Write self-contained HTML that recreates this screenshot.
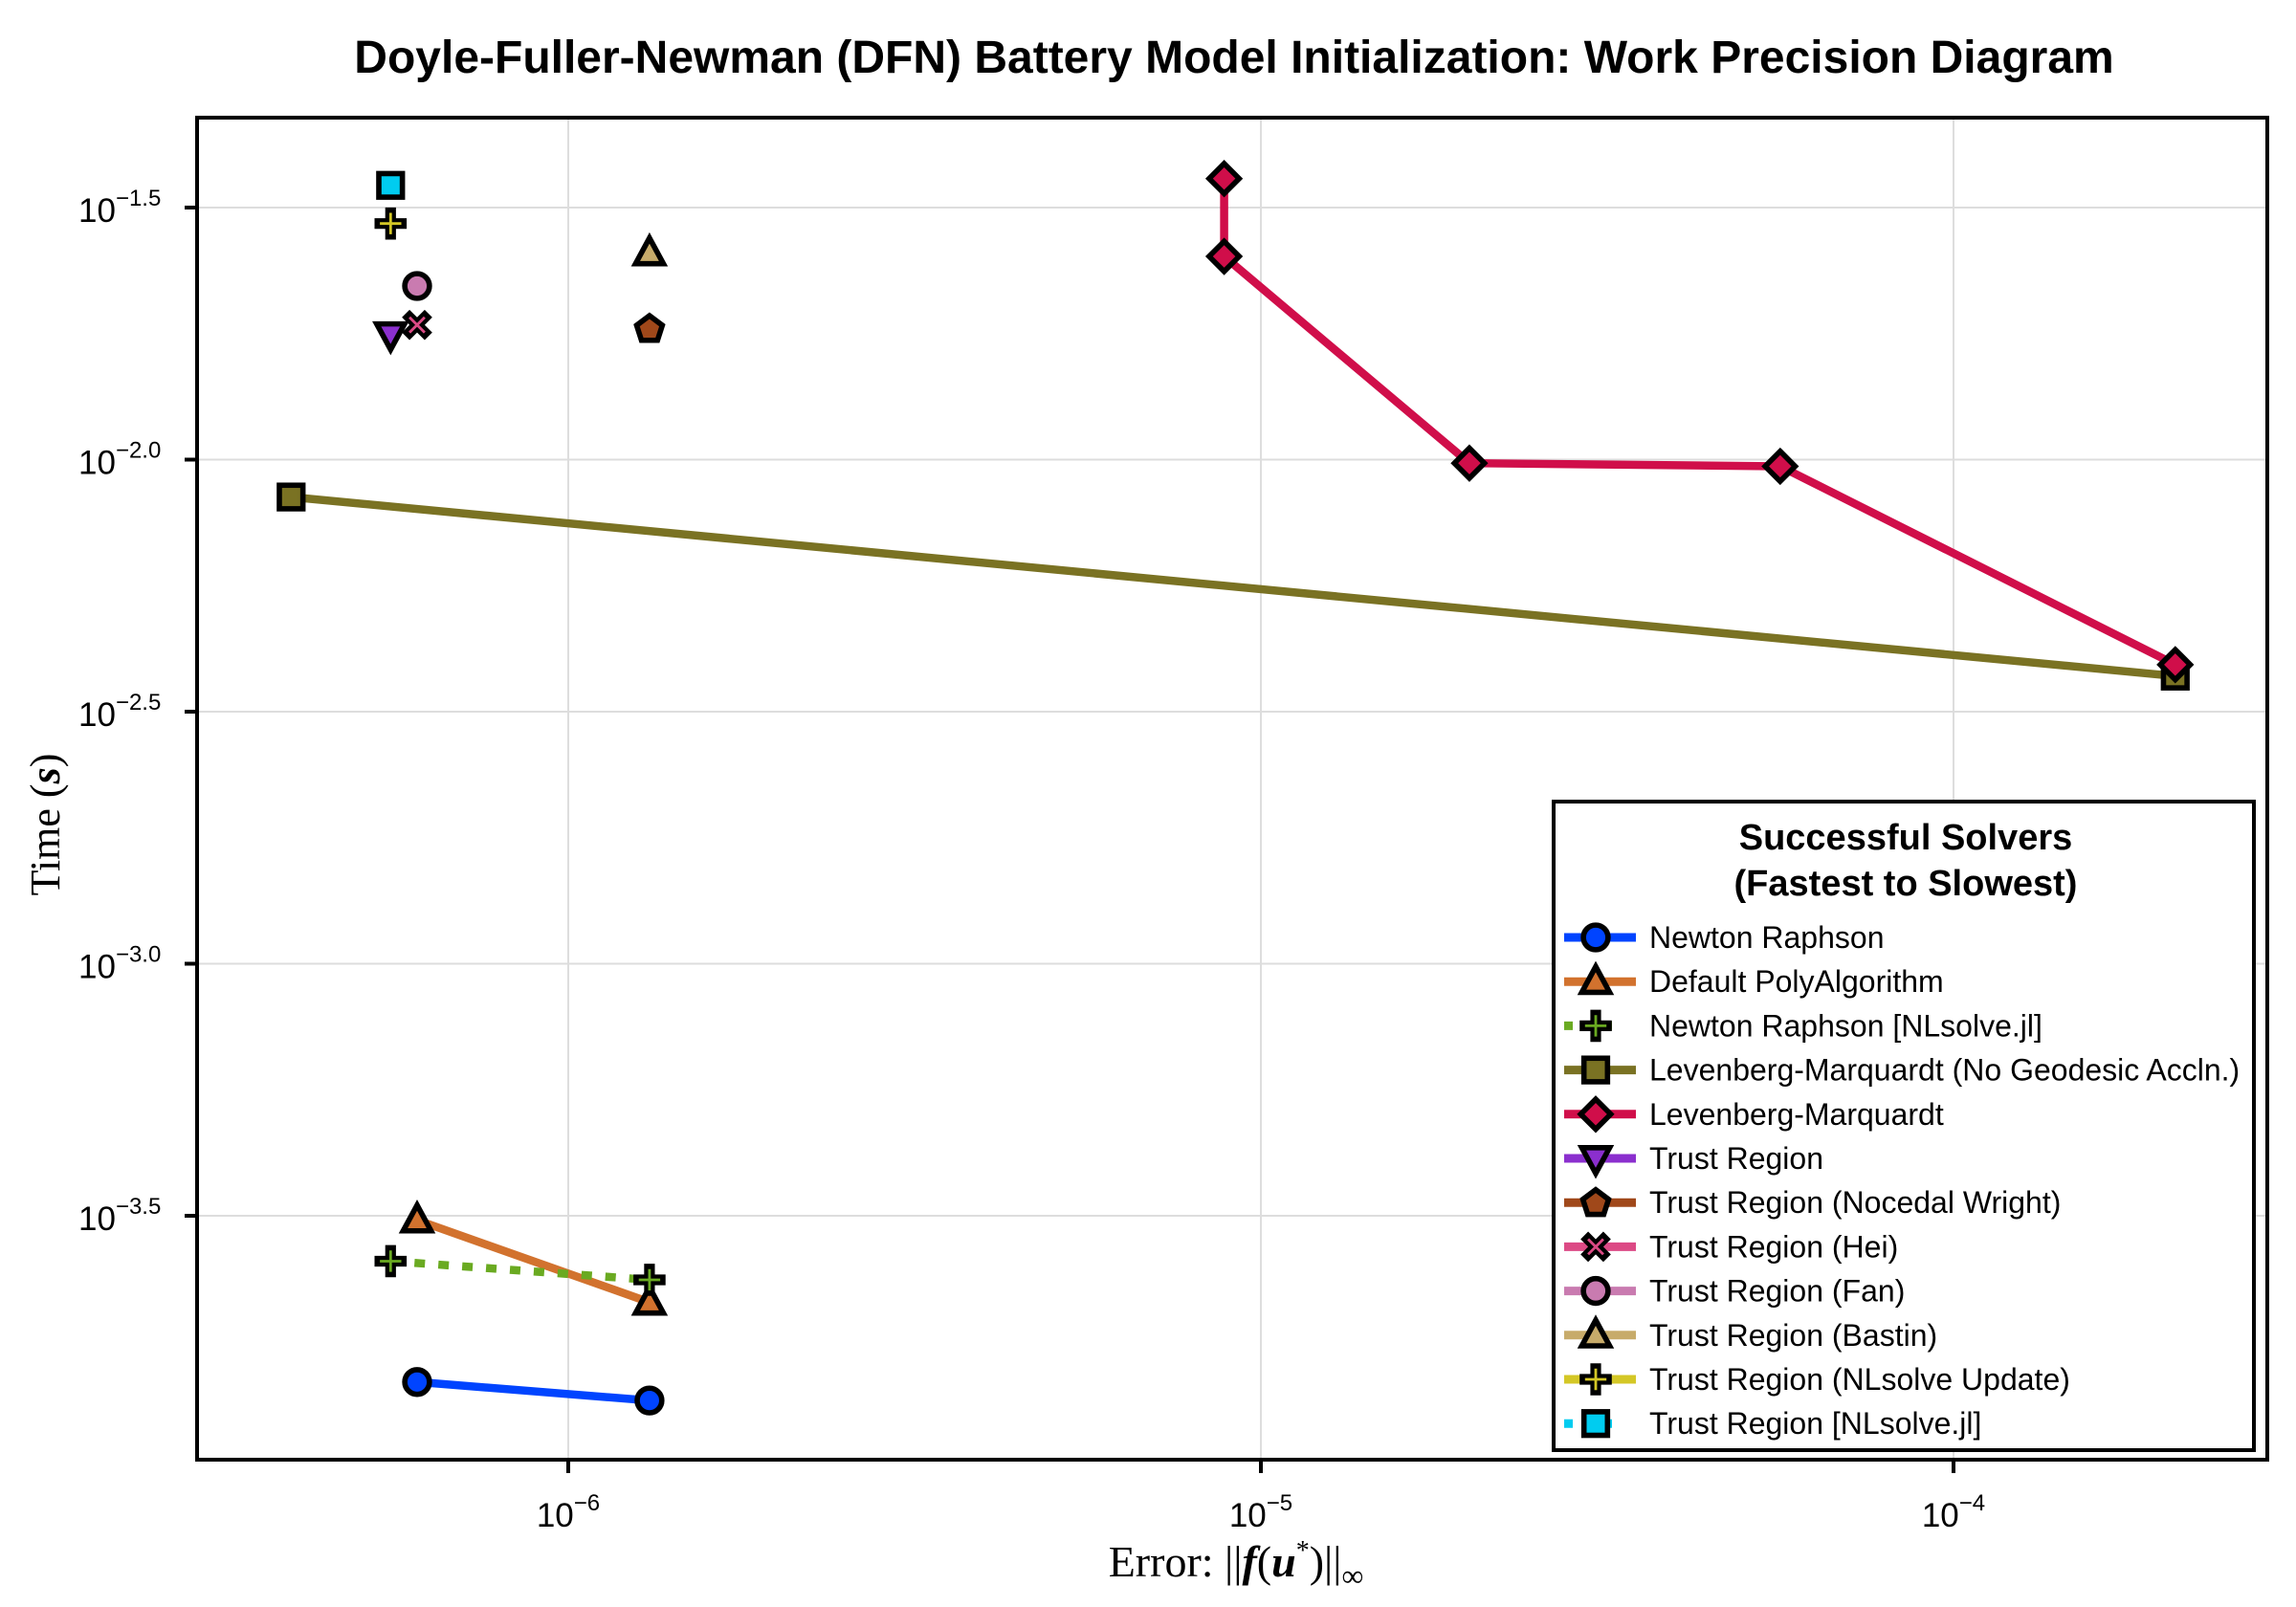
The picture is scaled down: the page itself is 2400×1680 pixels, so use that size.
<!DOCTYPE html>
<html><head><meta charset="utf-8"><style>
html,body{margin:0;padding:0;background:#fff;}
svg{display:block;font-family:"Liberation Sans",sans-serif;}
</style></head><body>
<svg id="chart" width="2400" height="1680" viewBox="0 0 2400 1680" xmlns="http://www.w3.org/2000/svg">
<rect width="2400" height="1680" fill="#fff"/>
<text x="1290" y="76" text-anchor="middle" font-size="48" font-weight="bold">Doyle-Fuller-Newman (DFN) Battery Model Initialization: Work Precision Diagram</text>
<g id="grid"></g>
<g id="series"></g>
<rect x="206" y="123" width="2164" height="1403" fill="none" stroke="#000" stroke-width="4"/>
<g id="ticks"></g>
<text x="1292" y="1648" text-anchor="middle" font-family="Liberation Serif, serif" font-size="46">Error: ||<tspan font-style="italic" font-weight="bold">f</tspan>(<tspan font-style="italic" font-weight="bold">u</tspan><tspan dy="-18" font-size="28">*</tspan><tspan dy="18">)||</tspan><tspan dy="10" font-size="32">∞</tspan></text>
<text transform="translate(62,862) rotate(-90)" text-anchor="middle" font-family="Liberation Serif, serif" font-size="44">Time (<tspan font-style="italic" font-weight="bold">s</tspan>)</text>
<g id="legend">
<rect x="1624" y="838" width="732" height="678" fill="#fff" stroke="#000" stroke-width="4"/>
<text x="1992" y="888" text-anchor="middle" font-size="38" font-weight="bold">Successful Solvers</text>
<text x="1992" y="936" text-anchor="middle" font-size="38" font-weight="bold">(Fastest to Slowest)</text>
<g id="legend-entries"></g>
</g>
</svg>
<script>
// ---- data ----
const seriesNames = ["Newton Raphson","Default PolyAlgorithm","Newton Raphson [NLsolve.jl]","Levenberg-Marquardt (No Geodesic Accln.)","Levenberg-Marquardt","Trust Region","Trust Region (Nocedal Wright)","Trust Region (Hei)","Trust Region (Fan)","Trust Region (Bastin)","Trust Region (NLsolve Update)","Trust Region [NLsolve.jl]"];
const errNR = [6.05e-7, 1.31e-6];
const timeNR = [1.48e-4, 1.36e-4];
const errPoly = [6.05e-7, 1.31e-6];
const timePoly = [3.10e-4, 2.13e-4];
const errNRNL = [5.54e-7, 1.31e-6];
const timeNRNL = [2.57e-4, 2.36e-4];
const errLMNG = [3.98e-7, 2.09e-4];
const timeLMNG = [8.43e-3, 3.72e-3];
const errLM = [8.85e-6, 8.85e-6, 2.0e-5, 5.62e-5, 2.09e-4];
const timeLM = [3.61e-2, 2.53e-2, 9.84e-3, 9.70e-3, 3.92e-3];
const errTR = [5.54e-7];
const timeTR = [1.77e-2];
const errTRNW = [1.31e-6];
const timeTRNW = [1.82e-2];
const errTRHei = [6.05e-7];
const timeTRHei = [1.85e-2];
const errTRFan = [6.05e-7];
const timeTRFan = [2.21e-2];
const errTRBastin = [1.31e-6];
const timeTRBastin = [2.57e-2];
const errTRNLU = [5.54e-7];
const timeTRNLU = [2.94e-2];
const errTRNL = [5.54e-7];
const timeTRNL = [3.50e-2];
const xTickExps = [-6, -5, -4];
const yTickExps = ["-1.5", "-2.0", "-2.5", "-3.0", "-3.5"];

// ---- axes ----
const NS = "http://www.w3.org/2000/svg";
function xs(v){ return 594 + (Math.log10(v) + 6) * 724; }
function ys(v){ return 217 + (-1.5 - Math.log10(v)) * 527; }
function mk(tag, attrs, parent){ const e=document.createElementNS(NS,tag); for(const k in attrs) e.setAttribute(k,attrs[k]); parent.appendChild(e); return e; }

const grid=document.getElementById('grid'), ticks=document.getElementById('ticks');
xTickExps.forEach(ex=>{
  const x=xs(Math.pow(10,ex));
  const g=mk('line',{x1:x,x2:x,y1:123,y2:1526,stroke:'#ddd','stroke-width':2},grid);
  
  
  const t=mk('line',{x1:x,x2:x,y1:1526,y2:1540,stroke:'#000','stroke-width':4},ticks);
  
  
  const tx=mk('text',{x:x,y:1596,'text-anchor':'middle','font-size':35},ticks);
  
  
  tx.innerHTML='10<tspan dy="-17" font-size="24">−'+Math.abs(ex)+'</tspan>';
});
yTickExps.forEach(ex=>{
  const y=ys(Math.pow(10,parseFloat(ex)));
  const g=mk('line',{x1:206,x2:2370,y1:y,y2:y,stroke:'#ddd','stroke-width':2},grid);
  
  
  const t=mk('line',{x1:193,x2:206,y1:y,y2:y,stroke:'#000','stroke-width':4},ticks);
  
  
  const tx=mk('text',{x:82,y:y+15,'font-size':35},ticks);
  
  
  tx.innerHTML='10<tspan dy="-17" font-size="24">−'+ex.slice(1)+'</tspan>';
});

// ---- markers ----
function marker(shape, cx, cy, fill, parent){
  const g=mk('g',{transform:`translate(${cx},${cy}) scale(1.12)`},parent);
  const s={stroke:'#000','stroke-width':5,fill:fill,'stroke-linejoin':'miter'};
  if(shape==='circle') mk('circle',Object.assign({r:11.5},s),g);
  else if(shape==='square') mk('rect',Object.assign({x:-11,y:-11,width:22,height:22},s),g);
  else if(shape==='utri') mk('polygon',Object.assign({points:'0,-14 13,10 -13,10'},s),g);
  else if(shape==='dtri') mk('polygon',Object.assign({points:'0,14 13,-10 -13,-10'},s),g);
  else if(shape==='diamond') mk('polygon',Object.assign({points:'0,-14 14,0 0,14 -14,0'},s),g);
  else if(shape==='pentagon') mk('polygon',Object.assign({points:'0,-12 12,-3 7.5,11 -7.5,11 -12,-3'},s),g);
  else if(shape==='cross'){
    mk('path',{d:'M-5,-15h10v10h10v10h-10v10h-10v-10h-10v-10h10z',fill:'#000'},g);
    mk('path',{d:'M0,-10v20M-10,0h20',stroke:fill,'stroke-width':2.5},g);
  } else if(shape==='xcross'){
    const h=mk('g',{transform:'rotate(45)'},g);
    mk('path',{d:'M-5,-15h10v10h10v10h-10v10h-10v-10h-10v-10h10z',fill:'#000'},h);
    mk('path',{d:'M0,-10v20M-10,0h20',stroke:fill,'stroke-width':2.5},h);
  }
  return g;
}

const series = [
  {e:errNR,t:timeNR,c:'#0044ff',m:'circle',dash:null},
  {e:errPoly,t:timePoly,c:'#d2722e',m:'utri',dash:null},
  {e:errNRNL,t:timeNRNL,c:'#6aaa21',m:'cross',dash:'11 14'},
  {e:errLMNG,t:timeLMNG,c:'#7a7223',m:'square',dash:null},
  {e:errLM,t:timeLM,c:'#d00e4a',m:'diamond',dash:null},
  {e:errTR,t:timeTR,c:'#8b2fce',m:'dtri',dash:null},
  {e:errTRNW,t:timeTRNW,c:'#a0481a',m:'pentagon',dash:null},
  {e:errTRHei,t:timeTRHei,c:'#dc4a85',m:'xcross',dash:null},
  {e:errTRFan,t:timeTRFan,c:'#c97bb0',m:'circle',dash:null},
  {e:errTRBastin,t:timeTRBastin,c:'#c7ab6a',m:'utri',dash:null},
  {e:errTRNLU,t:timeTRNLU,c:'#d4c726',m:'cross',dash:null},
  {e:errTRNL,t:timeTRNL,c:'#00ccf0',m:'square',dash:'11 14'}
];
const sg=document.getElementById('series');
const slugs=['newton-raphson','default-polyalgorithm','newton-raphson-nlsolve','lm-no-geodesic','levenberg-marquardt','trust-region','trust-region-nocedal-wright','trust-region-hei','trust-region-fan','trust-region-bastin','trust-region-nlsolve-update','trust-region-nlsolve'];
series.forEach((s,i)=>{
  const g=mk('g',{},sg);
  
  
  if(s.e.length>1){
    const pts=s.e.map((v,j)=>xs(v)+','+ys(s.t[j])).join(' ');
    const l=mk('polyline',{points:pts,fill:'none',stroke:s.c,'stroke-width':8.5},g);
    if(s.dash) l.setAttribute('stroke-dasharray',s.dash);
    
    
  }
  s.e.forEach((v,j)=>{
    const m=marker(s.m,xs(v),ys(s.t[j]),s.c,g);
    
    
  });
});

// ---- legend ----
const le=document.getElementById('legend-entries');
series.forEach((s,i)=>{
  const y=980+i*46.2;
  const g=mk('g',{},le);
  
  
  const l=mk('line',{x1:1635,x2:1710,y1:y,y2:y,stroke:s.c,'stroke-width':9},g);
  if(s.dash) l.setAttribute('stroke-dasharray','9 32');
  marker(s.m,1668,y,s.c,g);
  const t=mk('text',{x:1724,y:y+11,'font-size':32},g);
  t.textContent=seriesNames[i];
});
</script>
</body></html>
